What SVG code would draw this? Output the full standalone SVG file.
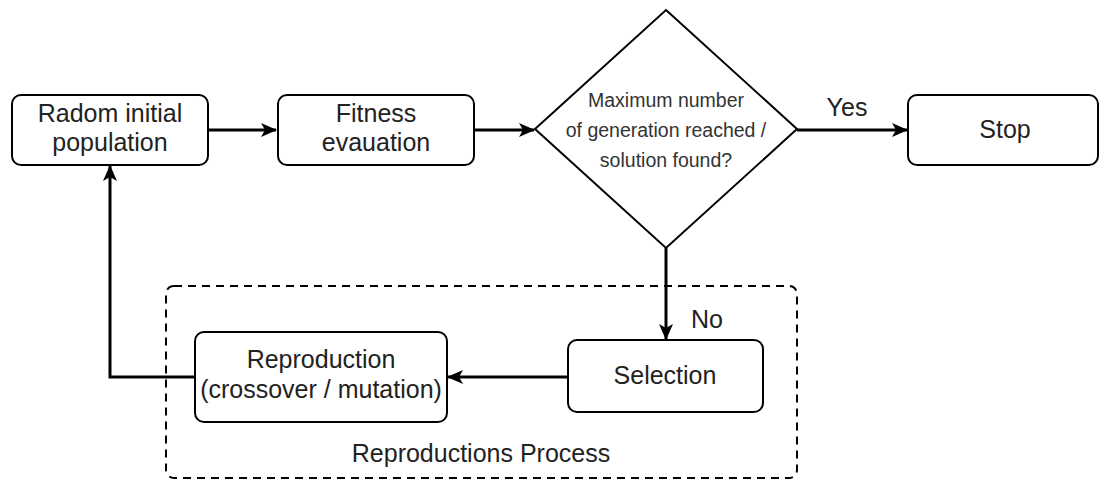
<svg xmlns="http://www.w3.org/2000/svg" width="1101" height="483" viewBox="0 0 1101 483">
<defs>
<style>
.box{fill:#fff;stroke:#000;stroke-width:2}
.t{font-family:"Liberation Sans",Arial,sans-serif;font-size:25px;fill:#222;text-anchor:middle}
.ts{font-family:"Liberation Sans",Arial,sans-serif;font-size:19.5px;fill:#333;text-anchor:middle}
.c{fill:none;stroke:#000;stroke-width:3}
</style>
<marker id="ah" markerWidth="16" markerHeight="16" viewBox="0 0 16 16" refX="15" refY="8" orient="auto" markerUnits="userSpaceOnUse">
<path d="M0,1 L16,8 L0,15 L4,8 Z" fill="#000"/>
</marker>
</defs>
<rect width="1101" height="483" fill="#fff"/>
<g id="container">
<rect x="166" y="286" width="631" height="192" rx="8" fill="none" stroke="#000" stroke-width="2" stroke-dasharray="8,6"/>
<text class="t" x="481" y="462">Reproductions Process</text>
</g>
<g id="connectors">
<path class="c" d="M208,130 L276,130" marker-end="url(#ah)"/>
<path class="c" d="M474,130 L534,130" marker-end="url(#ah)"/>
<path class="c" d="M797,130 L907,130" marker-end="url(#ah)"/>
<text class="t" x="847" y="116">Yes</text>
<path class="c" d="M666,248 L666,339" marker-end="url(#ah)"/>
<text class="t" x="707" y="328">No</text>
<path class="c" d="M568,377 L448,377" marker-end="url(#ah)"/>
<path class="c" d="M195,377 L110,377 L110,166" marker-end="url(#ah)"/>
</g>
<g id="n-init">
<rect class="box" x="12" y="95" width="196" height="70" rx="9"/>
<text class="t" x="110" y="122">Radom initial</text>
<text class="t" x="110" y="151">population</text>
</g>
<g id="n-fitness">
<rect class="box" x="278" y="95" width="196" height="70" rx="9"/>
<text class="t" x="376" y="122">Fitness</text>
<text class="t" x="376" y="151">evauation</text>
</g>
<g id="n-decision">
<polygon class="box" points="666,10 797,129 666,248 535,129"/>
<text class="ts" x="666" y="107">Maximum number</text>
<text class="ts" x="666" y="137">of generation reached /</text>
<text class="ts" x="666" y="167">solution found?</text>
</g>
<g id="n-stop">
<rect class="box" x="908" y="95" width="190" height="70" rx="9"/>
<text class="t" x="1005" y="138">Stop</text>
</g>
<g id="n-selection">
<rect class="box" x="568" y="340" width="195" height="72" rx="9"/>
<text class="t" x="665" y="384">Selection</text>
</g>
<g id="n-repro">
<rect class="box" x="195" y="332" width="252" height="90" rx="9"/>
<text class="t" x="321" y="368">Reproduction</text>
<text class="t" x="321" y="398">(crossover / mutation)</text>
</g>
</svg>
